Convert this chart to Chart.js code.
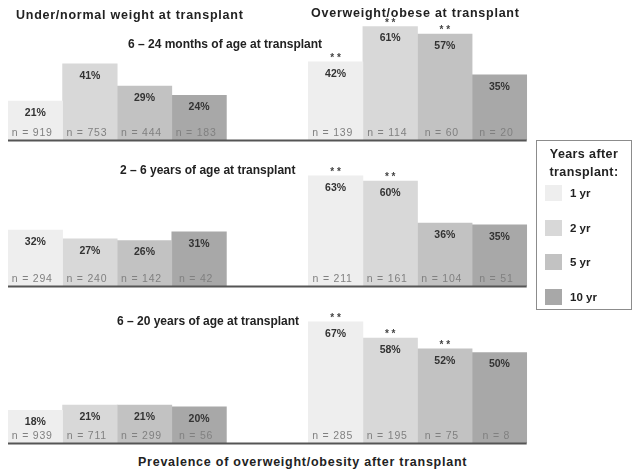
<!DOCTYPE html>
<html>
<head>
<meta charset="utf-8">
<script src="https://cdn.jsdelivr.net/npm/chart.js@4.4.1/dist/chart.umd.min.js"></script>
<style>
  body { margin: 0; background: #fff; font-family: "Liberation Sans", Arial, sans-serif; }
  #wrap { position: relative; width: 639px; height: 476px; overflow: hidden; }
  #wrap canvas { position: absolute; left: 0; }
  .txt { position: absolute; white-space: nowrap; font-weight: bold; color: #222; line-height: 1; }
  .big { font-size: 12.5px; letter-spacing: 0.75px; }
  .sub { font-size: 12px; }
  #legend { position: absolute; left: 536px; top: 140px; width: 94px; height: 168px; border: 1px solid #8c8c8c; }
  #legend .head { position: absolute; left: 0; width: 94px; text-align: center; font-weight: bold; font-size: 12.5px; letter-spacing: 0.4px; color: #222; line-height: 1; }
  #legend .sw { position: absolute; left: 8px; width: 17px; height: 16px; }
  #legend .lab { position: absolute; left: 33px; font-weight: bold; font-size: 11.5px; color: #222; line-height: 1; }
</style>
</head>
<body>
<div id="wrap">
  <canvas id="c0" width="639" height="143" style="top:0px"></canvas>
  <canvas id="c1" width="639" height="146" style="top:143px"></canvas>
  <canvas id="c2" width="639" height="157" style="top:289px"></canvas>
  <div class="txt big" style="left:16px; top:9px">Under/normal weight at transplant</div>
  <div class="txt big" style="left:311px; top:7px">Overweight/obese at transplant</div>
  <div class="txt sub" id="t0" style="left:128px; top:38px"></div>
  <div class="txt sub" id="t1" style="left:120px; top:164px"></div>
  <div class="txt sub" id="t2" style="left:117px; top:315px"></div>
  <div class="txt big" style="left:138px; top:456px">Prevalence of overweight/obesity after transplant</div>
  <div id="legend"></div>
</div>
<script>
// --- data ---
const years = ['1 yr', '2 yr', '5 yr', '10 yr'];
const yearColors = ['#eeeeee', '#d8d8d8', '#c2c2c2', '#a8a8a8'];
const panelTitles = [
  '6 \u2013 24 months of age at transplant',
  '2 \u2013 6 years of age at transplant',
  '6 \u2013 20 years of age at transplant'
];
// % overweight/obese after transplant, under/normal weight at transplant
const underPct = [[21, 41, 29, 24], [32, 27, 26, 31], [18, 21, 21, 20]];
const underN = [[919, 753, 444, 183], [294, 240, 142, 42], [939, 711, 299, 56]];
// % overweight/obese after transplant, overweight/obese at transplant
const overPct = [[42, 61, 57, 35], [63, 60, 36, 35], [67, 58, 52, 50]];
const overN = [[139, 114, 60, 20], [211, 161, 104, 51], [285, 195, 75, 8]];
const overSig = [[true, true, true, false], [true, true, false, false], [true, true, true, false]];

// group start positions on the x scale (one unit = one bar)
const underStart = 0.5;
const overStart = 6;
// y max per panel (scan scale differs slightly between panels)
const panelMax = [75.3, 81.7, 85.1];

const FONT = '"Liberation Sans", Arial, sans-serif';

// labels + baseline plugin
const barLabels = {
  id: 'barLabels',
  afterDatasetsDraw(chart) {
    const ctx = chart.ctx;
    const base = chart.scales.y.getPixelForValue(0);
    let left = Infinity, right = -Infinity;
    ctx.save();
    chart.data.datasets.forEach((ds, di) => {
      chart.getDatasetMeta(di).data.forEach((bar, i) => {
        left = Math.min(left, bar.x - bar.width / 2);
        right = Math.max(right, bar.x + bar.width / 2);
        ctx.textAlign = 'center';
        ctx.textBaseline = 'middle';
        ctx.letterSpacing = '0px';
        ctx.fillStyle = '#333';
        ctx.font = 'bold 10.5px ' + FONT;
        ctx.fillText(ds.data[i].y + '%', bar.x, bar.y + 12);
        ctx.fillStyle = '#808080';
        ctx.font = '10.5px ' + FONT;
        ctx.letterSpacing = '0.8px';
        ctx.fillText('n = ' + ds.counts[i], bar.x - 3, bar.base - 7);
        ctx.letterSpacing = '0px';
        if (ds.stars[i]) {
          ctx.fillStyle = '#444';
          ctx.font = 'bold 10px ' + FONT;
          ctx.textBaseline = 'alphabetic';
          ctx.fillText('* *', bar.x, bar.y - 1);
        }
      });
    });
    ctx.strokeStyle = '#555';
    ctx.lineWidth = 2;
    ctx.beginPath();
    ctx.moveTo(left, base + 0.5);
    ctx.lineTo(right, base + 0.5);
    ctx.stroke();
    ctx.restore();
  }
};

function makePanel(p) {
  const datasets = years.map((yr, i) => ({
    label: yr,
    backgroundColor: yearColors[i],
    borderWidth: 0,
    data: [
      { x: underStart + i, y: underPct[p][i] },
      { x: overStart + i, y: overPct[p][i] }
    ],
    counts: [underN[p][i], overN[p][i]],
    stars: [false, overSig[p][i]]
  }));

  new Chart(document.getElementById('c' + p), {
    type: 'bar',
    data: { datasets },
    options: {
      responsive: false,
      animation: false,
      layout: { padding: { left: 8, right: 85, top: 0, bottom: 3 } },
      plugins: { legend: { display: false }, tooltip: { enabled: false } },
      datasets: { bar: { grouped: false, barPercentage: 1, categoryPercentage: 1 } },
      scales: {
        x: { type: 'linear', display: false, offset: false, min: 0, max: 10, ticks: { stepSize: 1 } },
        y: { display: false, min: 0, max: panelMax[p] }
      }
    },
    plugins: [barLabels]
  });
  document.getElementById('t' + p).textContent = panelTitles[p];
}

[0, 1, 2].forEach(makePanel);

// legend box
const legend = document.getElementById('legend');
legend.innerHTML = '<div class="head" style="top:7px">Years after</div>' +
  '<div class="head" style="top:25px">transplant:</div>';
const rowTops = [44, 79, 113, 148];
years.forEach((yr, i) => {
  legend.innerHTML += '<div class="sw" style="top:' + rowTops[i] + 'px; background:' + yearColors[i] + '"></div>' +
    '<div class="lab" style="top:' + (rowTops[i] + 3) + 'px">' + yr + '</div>';
});
</script>
</body>
</html>
